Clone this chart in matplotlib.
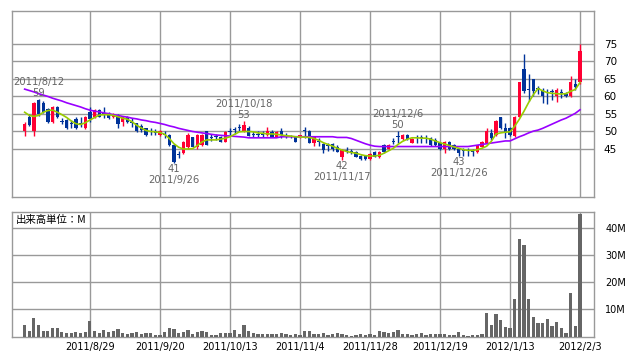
import matplotlib
matplotlib.use("Agg")
import matplotlib.pyplot as plt
import numpy as np

# ---------------- data ----------------
opens = [50.0,54.2,50.0,59.0,58.2,56.3,52.8,57.1,53.0,53.3,52.4,53.5,52.3,50.9,55.5,54.1,56.1,55.3,55.2,54.1,
         54.7,52.8,54.1,52.7,52.3,51.7,50.9,50.0,49.9,49.0,49.2,49.0,46.1,43.5,43.9,45.7,48.3,45.5,46.2,50.0,
         48.4,48.6,48.3,47.1,50.0,50.5,51.2,50.2,50.9,49.1,49.1,49.3,49.0,49.9,48.5,50.1,48.8,48.6,48.5,48.3,
         50.2,50.1,46.6,47.2,46.4,46.1,46.4,45.7,42.8,44.6,44.4,44.2,43.0,43.0,42.1,44.2,42.8,46.0,45.0,47.2,
         48.6,47.8,49.0,46.8,48.2,48.2,48.0,48.1,47.6,46.6,45.0,47.1,46.1,44.9,44.5,44.5,44.2,44.0,45.7,46.8,
         49.7,49.0,54.1,51.1,50.9,48.7,54.1,67.9,62.1,65.0,62.5,61.9,61.4,61.4,60.0,61.3,60.7,60.0,63.7,64.0]
highs = [52.8,55.0,58.3,59.2,58.8,56.6,57.4,57.2,53.8,53.5,53.3,54.0,54.0,54.3,57.0,56.5,56.3,57.0,55.5,55.2,
         55.0,54.3,54.3,53.8,52.5,52.0,51.1,51.0,50.6,50.3,50.1,49.2,46.5,44.5,47.3,49.5,48.5,49.2,49.2,50.2,
         49.3,49.3,48.6,50.2,51.0,51.4,52.0,53.0,51.5,50.0,50.0,50.0,51.3,50.3,50.1,51.0,49.5,49.0,48.7,49.1,
         51.4,50.3,48.7,48.0,46.6,46.6,46.6,46.0,44.9,45.5,45.0,44.5,43.3,43.3,43.8,44.5,44.5,46.3,46.4,48.1,
         50.0,49.2,49.2,48.0,49.0,49.0,49.0,48.5,48.1,47.0,47.4,47.3,46.3,45.3,45.3,45.3,45.0,46.2,47.4,51.1,
         50.8,53.3,54.2,52.5,51.3,54.3,64.2,72.0,66.5,65.1,63.0,62.5,62.0,62.0,62.3,62.0,61.2,65.9,65.0,75.0]
lows = [48.8,51.6,48.8,54.5,55.3,52.5,52.5,53.8,52.0,50.7,50.9,50.8,51.2,50.7,52.6,53.8,54.0,53.8,53.6,53.8,
        51.0,51.5,52.5,51.2,49.9,49.9,48.8,49.0,48.9,48.8,48.1,45.8,41.0,42.5,43.5,45.0,45.5,45.0,45.8,46.0,
        47.3,47.5,46.9,47.0,48.9,49.3,50.0,49.8,48.6,48.3,48.3,48.5,48.8,48.3,48.3,48.2,48.0,48.0,46.9,48.1,
        48.0,46.6,45.9,45.9,43.9,44.5,44.5,44.0,42.0,43.8,43.5,42.6,41.9,41.9,41.9,42.6,42.5,43.8,44.8,46.3,
        46.8,47.6,47.6,46.6,46.8,46.8,46.8,45.9,45.9,44.7,43.9,44.7,44.7,43.0,43.0,43.0,43.0,43.8,45.5,46.6,
        47.5,48.8,50.7,48.1,48.8,48.5,54.0,61.0,58.8,60.0,60.6,58.2,57.9,59.0,58.5,59.6,59.8,59.8,61.9,63.5]
closes = [52.2,51.9,58.0,55.0,55.7,52.8,57.1,54.0,52.7,50.9,52.1,50.9,52.0,54.0,53.5,56.1,54.2,55.0,53.8,54.9,
          52.1,54.1,52.8,52.3,50.1,50.3,49.0,49.8,49.7,50.1,48.9,46.0,41.3,43.2,47.1,49.0,45.7,49.0,49.0,46.2,
          48.2,48.4,47.1,49.9,49.8,50.3,51.0,51.9,48.8,48.9,48.9,49.1,50.1,48.5,49.9,49.0,48.6,48.4,47.1,49.0,
          50.0,46.8,48.5,47.0,44.7,45.9,44.9,44.2,44.7,44.4,44.2,42.8,42.1,42.1,43.5,42.8,44.2,44.0,46.1,47.0,
          48.4,49.0,47.8,47.8,48.0,48.0,47.8,46.1,46.1,45.0,47.1,45.0,45.0,43.9,44.3,44.3,44.0,46.0,47.1,50.1,
          48.1,53.1,50.9,49.7,49.0,54.1,64.0,61.7,61.8,61.7,62.2,60.0,61.1,61.2,61.9,61.1,60.0,64.0,62.7,73.0]
ma_short = [55.5,54.6,54.3,54.6,55.5,56.0,56.1,55.5,54.8,54.0,53.0,52.2,52.0,52.5,53.3,54.0,54.7,54.8,54.8,54.6,
            54.2,53.8,53.5,52.8,51.8,51.0,50.3,50.0,49.9,49.7,49.2,48.0,46.5,45.5,45.0,45.0,45.1,46.0,47.0,47.6,
            47.6,47.6,47.8,48.1,48.5,49.2,49.9,50.0,50.0,49.9,49.6,49.5,49.3,49.3,49.2,49.0,48.8,48.7,48.5,48.4,
            48.4,48.3,48.0,47.5,46.8,46.3,45.8,45.2,44.7,44.3,44.0,43.8,43.4,43.1,43.0,43.0,43.2,43.8,44.5,45.2,
            46.3,47.2,47.8,48.2,48.2,48.1,48.1,47.8,47.3,46.8,46.4,46.0,45.6,45.2,44.8,44.6,44.6,44.8,45.2,45.8,
            47.2,49.3,49.6,49.8,49.9,51.5,53.5,55.8,58.3,60.5,62.3,61.6,61.1,60.9,60.8,60.7,60.8,61.5,62.0,64.0]
ma_long = [62.1,61.7,61.3,60.8,60.4,60.0,59.5,59.1,58.7,58.2,57.8,57.4,57.0,56.5,56.1,55.8,55.6,55.3,55.1,54.8,
           54.6,54.3,54.1,53.8,53.6,53.3,53.1,52.8,52.6,52.3,52.0,51.6,51.3,50.9,50.6,50.3,50.0,49.8,49.6,49.4,
           49.2,49.0,48.9,48.8,48.7,48.6,48.5,48.4,48.2,48.2,48.2,48.2,48.2,48.2,48.2,48.5,48.5,48.5,48.5,48.5,
           48.5,48.5,48.5,48.5,48.5,48.5,48.5,48.3,48.3,48.3,48.0,47.5,47.0,46.5,46.1,45.8,45.7,45.7,45.7,45.7,
           45.7,45.7,45.7,45.7,45.7,45.7,45.7,45.7,45.7,45.7,45.7,45.7,45.7,45.7,45.7,45.7,45.9,46.1,46.3,46.5,
           46.7,46.9,47.1,47.3,47.3,47.9,48.5,49.0,49.6,50.1,50.4,50.9,51.5,52.1,52.7,53.3,53.8,54.5,55.2,56.2]
volume = [4.3,2.1,6.8,4.3,2.1,2.1,3.2,3.2,1.7,1.4,1.4,1.7,1.4,1.7,5.7,2.1,1.4,2.5,1.7,2.1,
          2.8,1.4,1.0,1.4,1.7,1.0,1.4,1.4,0.6,0.6,1.7,3.2,2.8,1.4,1.7,2.5,1.0,1.7,2.1,1.7,
          0.6,0.6,1.4,1.4,1.4,2.5,1.0,4.3,2.1,1.4,1.0,1.0,1.0,1.0,1.0,1.4,1.0,0.6,1.0,0.6,
          2.1,2.1,1.0,1.0,1.4,0.6,1.0,1.4,1.0,0.6,0.3,0.6,1.0,0.6,1.0,0.6,2.1,1.7,1.4,1.7,
          2.5,1.0,1.0,0.6,1.0,1.4,0.6,1.0,1.0,1.0,1.0,0.6,0.6,1.7,0.6,0.3,0.6,0.6,1.0,8.6,
          4.3,8.3,6.1,3.6,3.2,13.8,35.8,33.6,13.8,7.2,5.0,5.0,6.5,3.9,5.4,3.2,1.4,16.0,3.9,44.9]

tick_idx = [14, 29, 44, 59, 74, 89, 104, 119]
tick_labels = ["2011/8/29", "2011/9/20", "2011/10/13", "2011/11/4",
               "2011/11/28", "2011/12/19", "2012/1/13", "2012/2/3"]
price_ticks = [45, 50, 55, 60, 65, 70, 75]
vol_ticks = [10, 20, 30, 40]
vol_tick_labels = ["10M", "20M", "30M", "40M"]

high_marks = [(3, "2011/8/12", "59"), (47, "2011/10/18", "53"), (80, "2011/12/6", "50")]
low_marks = [(32, "2011/9/26", "41"), (68, "2011/11/17", "42"), (93, "2011/12/26", "43")]

# ---------------- style ----------------
UP = "#ff0033"
DOWN = "#003399"
GRID = "#999999"
plt.rcParams['font.family'] = ['DejaVu Sans']

W, H = 638, 362
fig = plt.figure(figsize=(W / 100, H / 100), dpi=100)

def frac(l, t, r, b):
    return [l / W, 1 - b / H, (r - l) / W, (b - t) / H]

ax = fig.add_axes(frac(12, 10.7, 594, 197))
axv = fig.add_axes(frac(12, 212, 594, 336.7))

n = len(closes)
x = np.arange(n)
o = np.array(opens); c = np.array(closes); h = np.array(highs); l = np.array(lows)
up = c >= o
colors = np.where(up, UP, DOWN)

xlim = (-2.71, 122.0)

# price panel
for a in (ax, axv):
    a.set_xlim(*xlim)
    for s in a.spines.values():
        s.set_color(GRID)
        s.set_linewidth(1)
    a.set_xticks(tick_idx)
    a.tick_params(axis='x', length=0)
    a.grid(True, color=GRID, linewidth=1)
    a.set_axisbelow(True)

ax.set_ylim(31.29, 84.5)
ax.set_yticks(price_ticks)
ax.yaxis.tick_right()
ax.tick_params(axis='y', length=0, pad=7, labelsize=7.5, labelcolor='black')
ax.set_xticklabels([])

ax.vlines(x, l, h, colors=colors, linewidth=1, zorder=3)
body_bottom = np.minimum(o, c)
body_h = np.maximum(np.abs(c - o), 0.3)
ax.bar(x, body_h, bottom=body_bottom, width=0.7, color=colors, linewidth=0, zorder=4)

ax.plot(x, ma_long, color="#9900ff", linewidth=1.2, zorder=5)
ax.plot(x, ma_short, color="#99cc00", linewidth=1.2, zorder=6)

ann_color = "#666666"
for i, d, v in high_marks:
    ax.annotate(v, (x[i], h[i]), xytext=(0, 4.5), textcoords='offset points',
                ha='center', va='center', fontsize=7.2, color=ann_color, zorder=7)
    ax.annotate(d, (x[i], h[i]), xytext=(0, 12.5), textcoords='offset points',
                ha='center', va='center', fontsize=7.2, color=ann_color, zorder=7)
for i, d, v in low_marks:
    ax.annotate(v, (x[i], l[i]), xytext=(0, -4.5), textcoords='offset points',
                ha='center', va='center', fontsize=7.2, color=ann_color, zorder=7)
    ax.annotate(d, (x[i], l[i]), xytext=(0, -12.5), textcoords='offset points',
                ha='center', va='center', fontsize=7.2, color=ann_color, zorder=7)

# volume panel
axv.set_ylim(0, 45.7)
axv.set_yticks(vol_ticks)
axv.set_yticklabels(vol_tick_labels)
axv.yaxis.tick_right()
axv.tick_params(axis='y', length=0, pad=8, labelsize=7, labelcolor='black')
axv.set_xticklabels(tick_labels)
axv.tick_params(axis='x', pad=4, labelsize=7, labelcolor='black')
axv.bar(x, volume, width=0.65, color="#666666", linewidth=0, zorder=3)
axv.text(0.007, 0.94, "出来高単位：M", transform=axv.transAxes, ha='left', va='center',
         fontsize=7.5, color='black', family=['Noto Sans CJK JP', 'DejaVu Sans'])

fig.savefig("out.png", dpi=100, facecolor='white')
